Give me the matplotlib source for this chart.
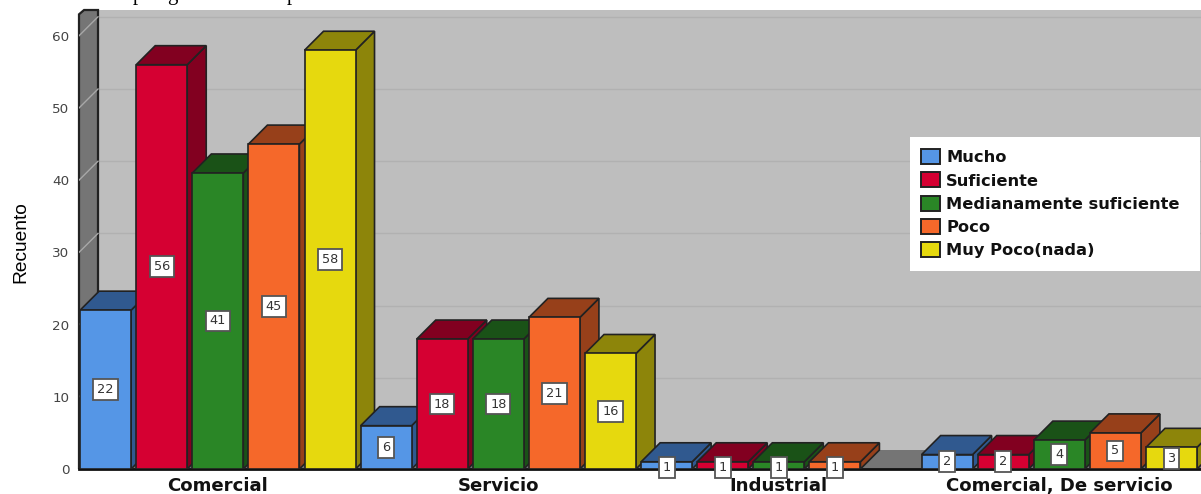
import matplotlib
matplotlib.use('Agg')
import matplotlib.pyplot as plt
from matplotlib.patches import Polygon, Rectangle, Patch

categories = ['Comercial', 'Servicio', 'Industrial', 'Comercial, De servicio']
series = ['Mucho', 'Suficiente', 'Medianamente suficiente', 'Poco', 'Muy Poco(nada)']
mucho = [22, 6, 1, 2]
suficiente = [56, 18, 1, 2]
medianamente = [41, 18, 1, 4]
poco = [45, 21, 1, 5]
muy_poco = [58, 16, 0, 3]
yticks = [0, 10, 20, 30, 40, 50, 60]

values = [mucho, suficiente, medianamente, poco, muy_poco]
front = ['#5596E6', '#D50032', '#2A8626', '#F5682A', '#E6D90E']
dark = ['#30598F', '#820020', '#1A5217', '#97401A', '#8D850A']
edge = '#222222'

W, H = 1201, 494
fig = plt.figure(figsize=(W / 100, H / 100), dpi=100)
ax = fig.add_axes([79 / W, (H - 469) / H, (W - 79) / W, 459 / H])
ax.set_xlim(0, 20)
ax.set_ylim(0, 459 / 7.22)
top = 459 / 7.22
dx = 19 / 56.1   # depth of the 3d effect, in axis units
dy = 19 / 7.22
bw = 51 / 56.1

# walls and floor
ax.add_patch(Rectangle((dx, dy), 20, top, fc='#BEBEBE', ec='none', zorder=0))
ax.add_patch(Polygon([(0, 0), (20, 0), (20 + dx, dy), (dx, dy)], fc='#757575', ec='none', zorder=1))
ax.add_patch(Polygon([(0, 0), (dx, dy), (dx, top), (0.09, top), (0, top - 0.6)],
                     fc='#757575', ec=edge, lw=1.6, zorder=1, clip_on=False))
for v in yticks[1:]:
    ax.plot([dx, 20], [v + dy, v + dy], color='#B1B1B1', lw=1, zorder=0.5)
    ax.plot([0, dx], [v, v + dy], color='#A8A8A8', lw=1, zorder=1.5)
ax.plot([0, 20], [0, 0], color='#111111', lw=2, zorder=2, clip_on=False)

# bars, left to right so the next front hides the side of the one before
z = 3
for c in range(len(categories)):
    for s in range(len(series)):
        v = values[s][c]
        if v == 0:
            continue
        x = c * 5 + s + 0.02
        ax.add_patch(Polygon([(x + bw, 0), (x + bw + dx, dy), (x + bw + dx, v + dy), (x + bw, v)],
                             fc=dark[s], ec=edge, lw=1.2, zorder=z))
        ax.add_patch(Polygon([(x, v), (x + dx, v + dy), (x + bw + dx, v + dy), (x + bw, v)],
                             fc=dark[s], ec=edge, lw=1.2, zorder=z))
        ax.add_patch(Rectangle((x, 0), bw, v, fc=front[s], ec=edge, lw=1.2, zorder=z + 0.5))
        z += 1

for c in range(len(categories)):
    for s in range(len(series)):
        v = values[s][c]
        if v == 0:
            continue
        x = c * 5 + s + 0.02
        ax.text(x + bw / 2, v / 2 - (0.3 if v == 1 else 0), str(v), ha='center', va='center',
                fontsize=9.3, color='#333333', zorder=100, clip_on=False,
                bbox=dict(boxstyle='square,pad=0.3', fc='white', ec='#555555', lw=1.3))

for sp in ax.spines.values():
    sp.set_visible(False)
ax.set_yticks(yticks)
ax.set_yticklabels(yticks, fontsize=9.7, color='#444444', family='DejaVu Sans')
ax.set_xticks([c * 5 + 2.47 for c in range(len(categories))])
ax.set_xticklabels(categories, fontsize=13.1, color='#111111', family='DejaVu Sans', fontweight='bold')
ax.tick_params(axis='y', length=0, pad=7)
ax.tick_params(axis='x', length=0, pad=6)
ax.patch.set_visible(False)

fig.text(21 / W, 1 - 242 / H, 'Recuento', rotation=90, ha='center', va='center', fontsize=13.8,
         family='Liberation Sans', color='black')

# white legend box, wider than the legend itself
ax.add_patch(Rectangle((910 / W, 1 - 271 / H), 290 / W, 134 / H, transform=fig.transFigure,
                       fc='white', ec='none', zorder=199, clip_on=False))
handles = [Patch(fc=front[s], ec=edge, lw=1.4) for s in range(len(series))]
leg = ax.legend(handles, series, loc='upper left', bbox_to_anchor=(909 / W, 1 - 137 / H),
                bbox_transform=fig.transFigure, frameon=False,
                borderaxespad=0, borderpad=0.75, handlelength=1.13, handleheight=1.05,
                handletextpad=0.4, labelspacing=0.44,
                prop={'family': 'DejaVu Sans', 'weight': 'bold', 'size': 11.7})
leg.set_zorder(200)
for t in leg.get_texts():
    t.set_color('#111111')

# descenders of the line of text cut off above the chart
for px, ch in [(138, 'p'), (172, 'g'), (292, 'p')]:
    fig.text(px / W, 1.0, ch, ha='center', va='baseline', fontsize=15,
             family='Liberation Serif', color='black')

fig.savefig('out.png', dpi=100)
